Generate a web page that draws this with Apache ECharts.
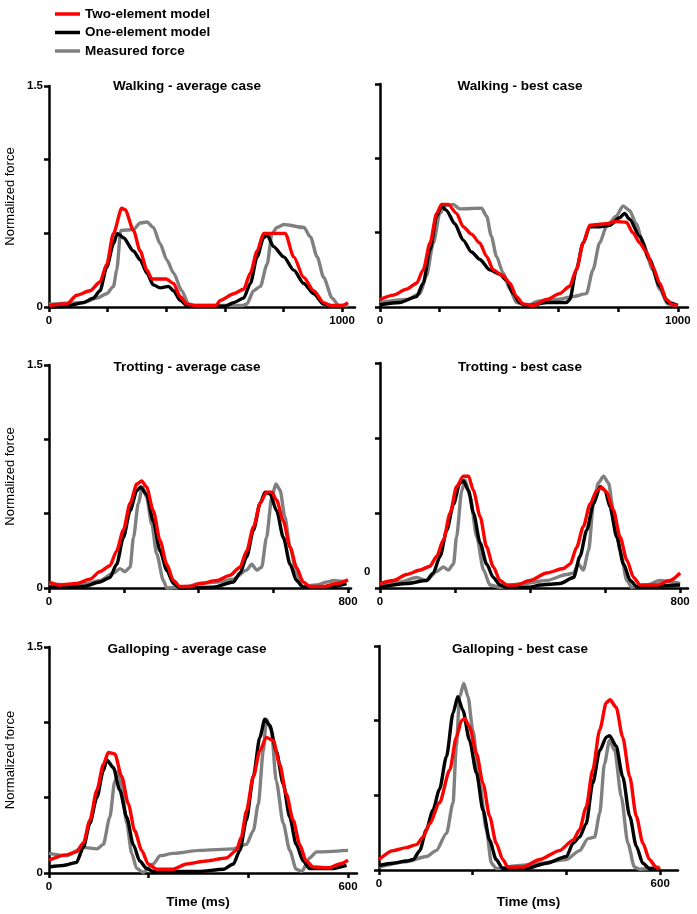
<!DOCTYPE html>
<html><head><meta charset="utf-8">
<script src="https://cdn.jsdelivr.net/npm/echarts@6/dist/echarts.min.js"></script>
<style>html,body{margin:0;padding:0;background:#fff}#c{width:697px;height:914px}</style>
</head><body><div id="c"></div>
<script>
// ---------- DATA ([time ms, normalized force]) ----------
const walkAvgTwo=[[0,0.01],[60,0.02],[95,0.08],[140,0.11],[174,0.17],[197,0.29],[220,0.50],[248,0.67],[260,0.66],[288,0.52],[311,0.38],[334,0.25],[351,0.19],[400,0.19],[425,0.16],[448,0.07],[470,0.02],[500,0.01],[570,0.01],[584,0.045],[630,0.09],[664,0.12],[687,0.23],[710,0.38],[732,0.50],[806,0.50],[835,0.34],[869,0.20],[903,0.11],[937,0.03],[960,0.01],[1000,0.01],[1020,0.03]];
const walkAvgOne=[[0,0],[60,0.005],[117,0.03],[151,0.06],[174,0.11],[197,0.27],[220,0.43],[233,0.50],[254,0.47],[288,0.38],[311,0.32],[334,0.23],[356,0.15],[379,0.13],[408,0.14],[425,0.11],[448,0.045],[470,0.01],[500,0.005],[600,0.005],[630,0.03],[664,0.06],[687,0.16],[710,0.34],[732,0.47],[744,0.49],[766,0.41],[801,0.34],[835,0.25],[869,0.16],[903,0.09],[937,0.02],[970,0.005],[1000,0.005]];
const walkAvgMeas=[[0,0.02],[117,0.03],[163,0.06],[197,0.09],[220,0.14],[231,0.25],[245,0.52],[288,0.525],[311,0.57],[334,0.577],[356,0.54],[379,0.43],[402,0.32],[425,0.23],[453,0.11],[476,0.02],[500,0.01],[660,0.01],[675,0.02],[698,0.11],[721,0.14],[744,0.29],[761,0.50],[778,0.54],[801,0.56],[870,0.54],[892,0.475],[915,0.34],[937,0.20],[966,0.06],[989,0.01],[1020,0.01]];

const walkBestTwo=[[0,0.05],[45,0.08],[89,0.12],[123,0.16],[145,0.25],[168,0.43],[190,0.63],[207,0.69],[229,0.69],[257,0.63],[279,0.54],[307,0.49],[335,0.43],[358,0.34],[380,0.25],[413,0.21],[436,0.16],[458,0.07],[480,0.02],[514,0.01],[559,0.05],[603,0.09],[637,0.14],[659,0.25],[682,0.43],[704,0.55],[760,0.56],[793,0.575],[827,0.57],[849,0.50],[872,0.43],[894,0.37],[916,0.27],[939,0.16],[961,0.05],[983,0.015],[1000,0.01]];
const walkBestOne=[[0,0.015],[67,0.03],[123,0.07],[145,0.16],[168,0.385],[190,0.61],[207,0.68],[223,0.65],[251,0.56],[279,0.45],[307,0.37],[335,0.32],[369,0.25],[402,0.22],[425,0.18],[447,0.09],[469,0.03],[492,0.005],[559,0.03],[626,0.03],[637,0.05],[659,0.25],[682,0.43],[704,0.54],[737,0.54],[771,0.55],[804,0.60],[821,0.63],[838,0.59],[872,0.475],[905,0.32],[939,0.14],[966,0.03],[1000,0.01]];
const walkBestMeas=[[0,0.03],[89,0.05],[134,0.09],[156,0.21],[179,0.43],[201,0.63],[218,0.68],[246,0.69],[268,0.66],[341,0.665],[358,0.61],[374,0.475],[391,0.34],[413,0.23],[436,0.12],[458,0.03],[492,0.01],[536,0.04],[592,0.05],[648,0.07],[693,0.09],[715,0.25],[737,0.43],[760,0.54],[793,0.61],[816,0.68],[838,0.65],[860,0.56],[883,0.43],[916,0.25],[939,0.12],[966,0.02],[994,0.015]];

const trotAvgTwo=[[0,0.04],[29,0.02],[74,0.03],[110,0.06],[136,0.11],[163,0.15],[181,0.25],[199,0.39],[217,0.57],[235,0.70],[248,0.72],[261,0.68],[279,0.52],[297,0.32],[315,0.16],[333,0.05],[350,0.01],[377,0.01],[404,0.03],[449,0.05],[484,0.085],[511,0.14],[529,0.25],[547,0.41],[565,0.57],[582,0.645],[596,0.645],[609,0.59],[627,0.45],[645,0.275],[662,0.14],[680,0.04],[698,0.01],[734,0.01],[770,0.03],[800,0.055]];
const trotAvgOne=[[0,0.005],[92,0.01],[136,0.04],[163,0.07],[181,0.16],[199,0.34],[217,0.52],[235,0.655],[245,0.68],[261,0.63],[279,0.45],[297,0.25],[315,0.12],[333,0.03],[350,0],[440,0.005],[493,0.04],[511,0.1],[529,0.21],[547,0.39],[565,0.57],[578,0.645],[591,0.635],[609,0.52],[627,0.34],[645,0.16],[662,0.05],[680,0.005],[760,0.01],[796,0.03]];
const trotAvgMeas=[[0,0.03],[47,0.02],[101,0.03],[136,0.05],[172,0.10],[190,0.13],[203,0.11],[217,0.14],[226,0.34],[239,0.57],[250,0.68],[261,0.61],[275,0.43],[288,0.23],[306,0.05],[315,0],[368,0.01],[404,0.03],[449,0.04],[493,0.06],[529,0.12],[542,0.16],[556,0.12],[569,0.14],[582,0.34],[596,0.61],[607,0.70],[618,0.66],[631,0.48],[645,0.275],[662,0.10],[676,0.01],[716,0.02],[743,0.04],[761,0.05],[796,0.04]];

const trotBestTwo=[[0,0.03],[36,0.05],[71,0.09],[107,0.12],[133,0.145],[151,0.21],[169,0.32],[187,0.50],[204,0.675],[222,0.745],[236,0.745],[249,0.65],[267,0.475],[284,0.275],[302,0.14],[320,0.05],[338,0.02],[364,0.02],[400,0.05],[444,0.10],[489,0.13],[507,0.16],[524,0.27],[542,0.41],[560,0.56],[578,0.65],[591,0.67],[604,0.64],[622,0.52],[640,0.34],[658,0.185],[676,0.07],[693,0.02],[738,0.02],[773,0.05],[800,0.10]];
const trotBestOne=[[0,0.005],[71,0.03],[124,0.05],[142,0.10],[160,0.21],[178,0.385],[196,0.56],[213,0.70],[222,0.715],[236,0.65],[249,0.50],[267,0.30],[284,0.16],[302,0.07],[320,0.02],[338,0.005],[400,0.005],[427,0.02],[480,0.03],[516,0.07],[533,0.21],[551,0.385],[569,0.56],[587,0.675],[600,0.65],[613,0.54],[631,0.34],[649,0.16],[667,0.05],[684,0.01],[800,0.02]];
const trotBestMeas=[[0,0.02],[53,0.04],[98,0.07],[124,0.05],[151,0.11],[169,0.14],[182,0.12],[196,0.16],[204,0.34],[218,0.65],[227,0.72],[240,0.61],[258,0.34],[276,0.12],[293,0.02],[320,0.005],[382,0.03],[444,0.05],[498,0.09],[516,0.10],[529,0.16],[542,0.12],[556,0.25],[569,0.56],[582,0.70],[596,0.745],[609,0.70],[622,0.52],[640,0.25],[658,0.05],[671,0.005],[711,0.02],[747,0.05],[782,0.04],[800,0.03]];

const galAvgTwo=[[0,0.085],[35,0.12],[55,0.14],[69,0.20],[82,0.35],[96,0.55],[109,0.72],[119,0.80],[132,0.79],[146,0.64],[159,0.46],[172,0.28],[186,0.15],[199,0.06],[216,0.025],[249,0.025],[276,0.06],[316,0.08],[356,0.10],[376,0.15],[386,0.24],[396,0.41],[410,0.64],[423,0.81],[436,0.90],[450,0.88],[463,0.72],[476,0.525],[490,0.35],[503,0.19],[516,0.08],[530,0.04],[563,0.035],[583,0.06],[600,0.085]];
const galAvgOne=[[0,0.04],[29,0.05],[55,0.07],[69,0.17],[82,0.33],[96,0.50],[109,0.68],[116,0.75],[129,0.70],[142,0.55],[156,0.37],[169,0.19],[182,0.08],[196,0.03],[209,0.01],[300,0.01],[350,0.025],[370,0.06],[383,0.15],[396,0.35],[410,0.64],[423,0.90],[433,1.02],[443,0.98],[456,0.81],[470,0.59],[483,0.37],[496,0.19],[510,0.08],[523,0.03],[570,0.03],[597,0.05]];
const galAvgMeas=[[0,0.13],[35,0.115],[69,0.17],[96,0.16],[109,0.19],[122,0.37],[132,0.61],[139,0.68],[146,0.57],[156,0.33],[166,0.13],[176,0.03],[189,0.005],[209,0.06],[223,0.115],[249,0.13],[303,0.15],[370,0.16],[396,0.19],[410,0.28],[420,0.46],[430,0.81],[436,1.02],[446,0.95],[456,0.61],[470,0.33],[483,0.15],[496,0.025],[507,0.01],[523,0.10],[537,0.14],[600,0.15]];

const galBestTwo=[[0,0.07],[30,0.13],[58,0.15],[80,0.17],[94,0.22],[108,0.31],[129,0.45],[151,0.67],[165,0.89],[176,1.00],[183,1.015],[193,0.96],[208,0.78],[222,0.58],[236,0.36],[250,0.18],[264,0.07],[275,0.02],[307,0.02],[343,0.07],[385,0.13],[414,0.20],[428,0.27],[442,0.42],[456,0.67],[471,0.94],[485,1.12],[493,1.14],[506,1.09],[520,0.89],[535,0.625],[549,0.36],[563,0.18],[577,0.07],[591,0.02],[599,0.005]];
const galBestOne=[[0,0.03],[30,0.045],[58,0.06],[73,0.07],[87,0.13],[101,0.27],[115,0.40],[129,0.54],[144,0.76],[158,1.05],[168,1.16],[179,1.07],[193,0.87],[208,0.65],[222,0.40],[236,0.20],[250,0.07],[264,0.01],[314,0.01],[357,0.045],[400,0.09],[414,0.18],[428,0.22],[442,0.31],[456,0.58],[471,0.80],[485,0.89],[492,0.90],[506,0.83],[520,0.625],[535,0.36],[549,0.16],[563,0.045],[577,0.01],[600,0.005]];
const galBestMeas=[[0,0.02],[58,0.055],[101,0.09],[122,0.13],[144,0.245],[158,0.45],[165,0.83],[172,1.16],[181,1.25],[190,1.16],[200,0.94],[215,0.58],[229,0.27],[240,0.045],[250,0.01],[300,0.03],[343,0.045],[400,0.07],[428,0.13],[446,0.21],[460,0.22],[471,0.38],[481,0.71],[492,0.87],[503,0.80],[517,0.49],[531,0.18],[545,0.02],[556,0.005],[599,0.02]];

const panelTitles=['Walking - average case','Walking - best case','Trotting - average case','Trotting - best case','Galloping - average case','Galloping - best case'];
const seriesNames=['Two-element model','One-element model','Measured force'];
const xTicks=[[0,200,400,600,800,1000],[0,200,400,600,800,1000],[0,200,400,600,800],[0,200,400,600,800],[0,200,400,600],[0,200,400,600]];
const xLabels=[[0,1000],[0,1000],[0,800],[0,800],[0,600],[0,600]];
const yLabels=[0,1.5];
const panelData=[
  [walkAvgTwo,walkAvgOne,walkAvgMeas],[walkBestTwo,walkBestOne,walkBestMeas],
  [trotAvgTwo,trotAvgOne,trotAvgMeas],[trotBestTwo,trotBestOne,trotBestMeas],
  [galAvgTwo,galAvgOne,galAvgMeas],[galBestTwo,galBestOne,galBestMeas]];

// ---------- LAYOUT ----------
const FF='Liberation Sans, Arial, sans-serif';
const layout=[
  {left:49,top:86,width:306,height:221,xmax:1044},
  {left:380,top:84,width:308,height:223,xmax:1034},
  {left:49,top:365,width:302,height:223,xmax:808},
  {left:380,top:363,width:308,height:225,xmax:821},
  {left:49,top:647,width:308,height:226,xmax:618},
  {left:379,top:646,width:299,height:224,xmax:638}];
const titleCenters=[187,520,187,520,187,520];
const titleTops=[79,79,360,360,642,642];
const colors=['#ff0000','#000000','#808080'];
const fmt=v=>String(v);

const grid=[],xAxis=[],yAxis=[],title=[],series=[];
layout.forEach((g,i)=>{
  grid.push({left:g.left,top:g.top,width:g.width,height:g.height,containLabel:false});
  const isLeft=i%2===0, isBottom=i>=4;
  xAxis.push({type:'value',gridIndex:i,min:0,max:g.xmax,
    axisLine:{show:true,onZero:false,lineStyle:{color:'#000',width:2.5}},
    axisTick:{show:true,customValues:xTicks[i],length:5,lineStyle:{color:'#000',width:2.5}},
    axisLabel:{show:true,customValues:xLabels[i],formatter:fmt,color:'#000',fontWeight:'bold',fontSize:11.5,fontFamily:FF,margin:8},
    splitLine:{show:false},
    name:isBottom?'Time (ms)':'',nameLocation:'middle',nameGap:isLeft?22:25,
    nameTextStyle:{color:'#000',fontWeight:'bold',fontSize:13.5,fontFamily:FF,padding:isLeft?[0,10,0,0]:[0,0,0,0]}});
  yAxis.push({type:'value',gridIndex:i,min:0,max:1.5,interval:0.5,
    axisLine:{show:true,onZero:false,lineStyle:{color:'#000',width:2.5}},
    axisTick:{show:true,length:5,lineStyle:{color:'#000',width:2.5}},
    axisLabel:{show:isLeft,customValues:yLabels,formatter:fmt,color:'#000',fontWeight:'bold',fontSize:11.5,fontFamily:FF,margin:6},
    splitLine:{show:false},
    name:isLeft?'Normalized force':'',nameLocation:'middle',nameGap:32,
    nameTextStyle:{color:'#000',fontSize:13,fontFamily:FF}});
  title.push({text:panelTitles[i],left:titleCenters[i],top:titleTops[i],textAlign:'center',padding:0,
    textStyle:{color:'#000',fontWeight:'bold',fontSize:13.5,fontFamily:FF}});
  // draw order: measured, one-element, two-element on top
  [2,1,0].forEach(k=>{
    series.push({type:'line',name:seriesNames[k],xAxisIndex:i,yAxisIndex:i,data:panelData[i][k],
      showSymbol:false,symbol:'none',clip:false,lineStyle:{color:colors[k],width:3.4},itemStyle:{color:colors[k]},
      smooth:0.25,smoothMonotone:'x',z:3-k});
  });
});

const chart=echarts.init(document.getElementById('c'),null,{renderer:'canvas'});
chart.setOption({
  animation:false,backgroundColor:'#fff',
  title,grid,xAxis,yAxis,series,
  legend:{orient:'vertical',left:55,top:7,padding:0,itemWidth:25,itemHeight:3.5,itemGap:4.5,icon:'rect',selectedMode:false,
    data:seriesNames,textStyle:{color:'#000',fontWeight:'bold',fontSize:13.5,fontFamily:FF,lineHeight:14}},
  graphic:[{type:'text',left:364,top:566,style:{text:'0',fill:'#000',font:'bold 11.5px '+FF}}]
});
</script></body></html>
